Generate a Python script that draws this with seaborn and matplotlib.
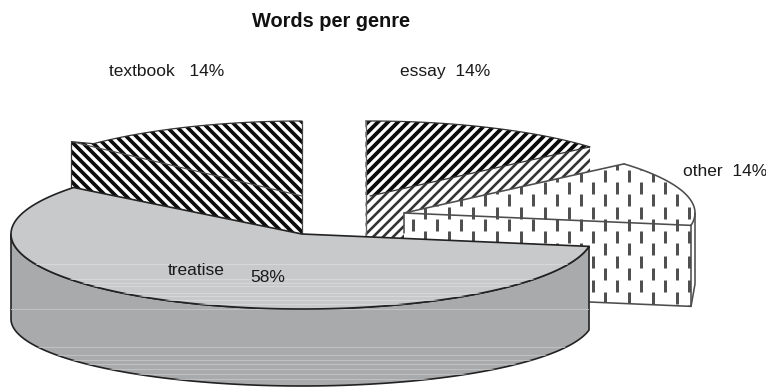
import numpy as np
import matplotlib
matplotlib.use("Agg")
import matplotlib.pyplot as plt
from matplotlib.collections import LineCollection
from matplotlib.patches import Polygon
import seaborn as sns

# Share of words per genre, counter-clockwise from the lower right
genres = ["other", "essay", "textbook", "treatise"]
shares = [14, 14, 14, 58]
label_texts = ["other  14%", "essay  14%", "textbook   14%", "treatise"]

FIRST_ANGLE = -9.5
RX, RY, RY_BASE, DEPTH = 291.0, 75.0, 67.0, 85.0
apexes = {"other": (404, 213), "essay": (370, 196),
          "textbook": (302, 196), "treatise": (302, 234)}

sns.set_theme(style="white")
plt.rcParams["font.family"] = ["Liberation Sans", "DejaVu Sans"]

fig = plt.figure(figsize=(7.66, 3.88), dpi=100, facecolor="white")
ax = fig.add_axes([0, 0, 1, 1])
ax.set_xlim(0, 766)
ax.set_ylim(388, 0)
ax.axis("off")


def rim(apex, t0, t1, n=120, ry=RY, drop=0.0):
    t = np.radians(np.linspace(t0, t1, n))
    return np.column_stack([apex[0] + RX * np.cos(t),
                            apex[1] + drop - ry * np.sin(t)])


def stripes(clip, slope, period, width, color, z):
    # diagonal bands at a fixed horizontal period, clipped to a face
    offsets = np.arange(-500, 1300, period)
    segs = [[(o, 0), (o + slope * 388, 388)] for o in offsets]
    lc = LineCollection(segs, colors=color, linewidths=width * 0.72, zorder=z)
    ax.add_collection(lc)
    lc.set_clip_path(clip)


def dashes(clip, z):
    # staggered short vertical dashes
    segs = []
    for i, x in enumerate(np.arange(401.3, 720, 12.0)):
        y0 = 188.3 if i % 2 == 0 else 175.8
        for y in np.arange(y0 - 24.5 * 2, 330, 24.5):
            segs.append([(x, y - 6), (x, y + 6)])
    lc = LineCollection(segs, colors="#505050", linewidths=3 * 0.72, zorder=z)
    ax.add_collection(lc)
    lc.set_clip_path(clip)


def face(points, z, fc="white", ec="none", lw=0.0):
    p = Polygon(points, closed=True, facecolor=fc, edgecolor=ec,
                linewidth=lw, zorder=z, joinstyle="round")
    ax.add_patch(p)
    return p


edges = FIRST_ANGLE + np.concatenate([[0], np.cumsum(shares)]) * 3.6
spans = {g: (edges[i], edges[i + 1]) for i, g in enumerate(genres)}

# Essay: detached to the back right, with a straight inner edge
a = apexes["essay"]
t0, t1 = spans["essay"]
arc = rim(a, t0, t1)
arc = arc[arc[:, 0] >= 364]
inner_x = arc[-1, 0]
wall = face(np.vstack([[(inner_x, a[1])], [a], arc[:1], arc[:1] + [0, DEPTH],
                       [(inner_x, a[1] + DEPTH)]]), 2)
stripes(wall, -1.0, 10.0, 2.6, "#333333", 2.1)
top = face(np.vstack([[(inner_x, a[1] - 1)], [a], arc]), 3)
stripes(top, -1.0, 10.0, 3.8, "#0a0a0a", 3.1)
ax.plot(*np.vstack([arc[::-1], [a]]).T, color="#333333", lw=0.9, zorder=3.2)
ax.plot([inner_x, inner_x], [arc[-1, 1], a[1] + 45], color="#666666", lw=0.9, zorder=3.2)

# Textbook: detached to the back left, with a straight inner edge and a small
# flat lip where the rim meets the outer corner
a = apexes["textbook"]
t0, t1 = spans["textbook"]
arc = rim(a, t0, t1)
arc = arc[arc[:, 0] >= 92]
lip = arc[-1] + [-22, -2]
corner = (a[0], arc[0, 1])
wall = face(np.vstack([[a], [lip], lip + [0, DEPTH], np.array([a]) + [0, DEPTH]]), 2)
stripes(wall, 1.0, 10.0, 3.7, "#0c0c0c", 2.1)
top = face(np.vstack([[a], [corner], arc, [lip]]), 3)
stripes(top, 1.0, 10.0, 3.7, "#0c0c0c", 3.1)
ax.plot(*np.vstack([[a], [lip]]).T, color="#4a4a4a", lw=0.8, zorder=3.2)
ax.plot(*np.vstack([[corner], arc, [lip]]).T, color="#333333", lw=0.9, zorder=3.2)
ax.plot([lip[0]] * 2, [lip[1], lip[1] + DEPTH], color="#333333", lw=0.9, zorder=3.2)
ax.plot([a[0], a[0]], [corner[1], a[1] + 45], color="#444444", lw=0.9, zorder=3.2)

# Other: detached to the right, in front of essay
a = apexes["other"]
t0, t1 = spans["other"]
arc = rim(a, t0, t1)
outer = rim(a, t0, 0, n=20)
front = face(np.vstack([[a], arc[:1], arc[:1] + [0, DEPTH - 4],
                        np.array([a]) + [0, DEPTH - 4]]), 4)
side = face(np.vstack([outer, (outer + [0, DEPTH - 14])[::-1]]), 4)
top = face(np.vstack([[a], arc]), 4.5)
dashes(top, 4.6)
dashes(front, 4.2)
other_line = dict(color="#4d4d4d", lw=1.15, zorder=4.8)
ax.plot(*np.vstack([arc[:1], [a], arc[-1:]]).T, **other_line)
ax.plot(*arc.T, **other_line)
ax.plot([arc[0, 0]] * 2, [arc[0, 1], arc[0, 1] + DEPTH - 4], **other_line)
ax.plot(*np.vstack([arc[0] + [0, DEPTH - 4], outer[-1] + [0, DEPTH - 14], outer[-1]]).T, **other_line)
ax.plot([a[0], a[0]], [a[1], a[1] + 20], **other_line)
ax.plot([a[0], arc[0, 0]], [a[1] + DEPTH - 4, arc[0, 1] + DEPTH - 4], **other_line)

# Treatise: the large slice at the front
a = apexes["treatise"]
t0, t1 = spans["treatise"]
arc = rim(a, t0, t1, n=240)
low_top = rim(a, 180, t1, n=200)
low_base = rim(a, 180, t1, n=200, ry=RY_BASE, drop=DEPTH)
treatise_wall = face(np.vstack([low_top, low_base[::-1]]), 6, fc="#a9aaac",
                     ec="#222222", lw=1.2)
treatise_top = face(np.vstack([[a], arc]), 7, fc="#c8c9cb", ec="#222222", lw=1.2)

# Pale horizontal streaks across the grey surfaces
for y in [264, 279, 283, 286, 293, 296, 300, 304]:
    ln, = ax.plot([0, 766], [y, y], color="#dcdcde", lw=0.7, alpha=0.8, zorder=7.1)
    ln.set_clip_path(treatise_top)
for y in [309, 347, 355, 360, 364, 369, 374, 379]:
    ln, = ax.plot([0, 766], [y, y], color="#c8c9cb", lw=0.7, alpha=0.8, zorder=6.1)
    ln.set_clip_path(treatise_wall)

# Title and slice labels
text_kw = dict(color="#1a1a1a", fontsize=12.5, va="baseline", zorder=9)
ax.text(331, 27, "Words per genre", ha="center", va="baseline", fontsize=14.4,
        fontweight="bold", color="#111111")
ax.text(683, 176, label_texts[0], ha="left", **text_kw)
ax.text(400, 76, label_texts[1], ha="left", **text_kw)
ax.text(109, 76, label_texts[2], ha="left", **text_kw)
ax.text(168, 275, label_texts[3], ha="left", **text_kw)
ax.text(250, 282, f"{shares[3]}%", ha="left", **text_kw)

fig.savefig("out.png", dpi=100, facecolor="white")
